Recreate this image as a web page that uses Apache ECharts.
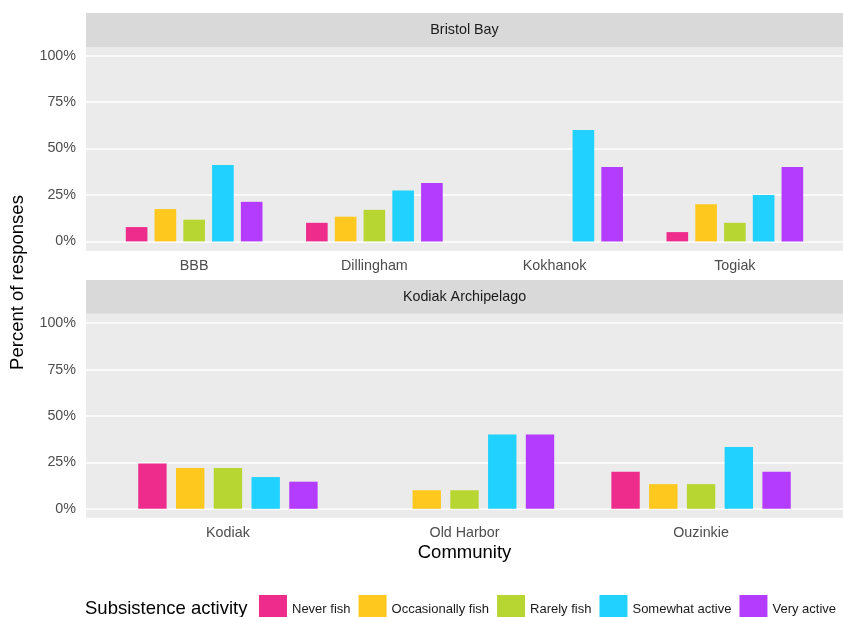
<!DOCTYPE html>
<html>
<head>
<meta charset="utf-8">
<script src="https://cdn.jsdelivr.net/npm/echarts@6/dist/echarts.min.js"></script>
<style>
  html, body { margin: 0; padding: 0; background: #fff; }
  #chart { width: 843px; height: 617px; }
</style>
</head>
<body>
<div id="chart"></div>
<script>
// Communities per region
const bristolCommunities = ['BBB', 'Dillingham', 'Kokhanok', 'Togiak'];
const kodiakCommunities = ['Kodiak', 'Old Harbor', 'Ouzinkie'];

// Subsistence activity groups
const activities = ['Never fish', 'Occasionally fish', 'Rarely fish', 'Somewhat active', 'Very active'];
const activityColors = ['#EE2C8C', '#FFC81E', '#B8D632', '#21D1FF', '#B43CFF'];

// Percent of responses, Bristol Bay
const bristolNever = [7.7, 10.0, null, 5.0];
const bristolOccasionally = [17.4, 13.3, null, 20.0];
const bristolRarely = [11.7, 17.0, null, 10.0];
const bristolSomewhat = [41.1, 27.4, 60.0, 25.0];
const bristolVery = [21.3, 31.4, 40.0, 40.0];

// Percent of responses, Kodiak Archipelago
const kodiakNever = [24.4, null, 20.0];
const kodiakOccasionally = [22.0, 10.0, 13.3];
const kodiakRarely = [22.0, 10.0, 13.3];
const kodiakSomewhat = [17.1, 40.0, 33.3];
const kodiakVery = [14.6, 40.0, 20.0];

// Y tick values
const percentTicks = [0, 25, 50, 75, 100];

const bristolSeries = [bristolNever, bristolOccasionally, bristolRarely, bristolSomewhat, bristolVery];
const kodiakSeries = [kodiakNever, kodiakOccasionally, kodiakRarely, kodiakSomewhat, kodiakVery];

const FONT = 'Liberation Sans, Arial, Helvetica, sans-serif';
const PANEL_BG = '#EBEBEB';
const STRIP_BG = '#D9D9D9';
const PANEL_LEFT = 86, PANEL_W = 757;

// Panel geometry: the value range 0..100 maps to [top, top+height]
const panels = [
  { stripY: 13, stripH: 34, bgY: 47, bgH: 203.7, top: 55.6, height: 185.8, cats: bristolCommunities, data: bristolSeries, label: 'Bristol Bay' },
  { stripY: 280, stripH: 33.7, bgY: 313.7, bgH: 204, top: 323.2, height: 185.6, cats: kodiakCommunities, data: kodiakSeries, label: 'Kodiak Archipelago' }
];

const grids = [], xAxes = [], yAxes = [], series = [], graphics = [];

panels.forEach((p, pi) => {
  // discrete scale expanded by 0.6 category units on each side
  const unit = PANEL_W / (p.cats.length + 0.2);
  const barLeft = PANEL_LEFT + 0.1 * unit;
  const barWidth = p.cats.length * unit;

  // grid for background gridlines (full panel width)
  grids.push({ left: PANEL_LEFT, top: p.top, width: PANEL_W, height: p.height, containLabel: false });
  xAxes.push({ type: 'value', gridIndex: grids.length - 1, show: false, min: 0, max: 1 });
  yAxes.push({
    type: 'value', gridIndex: grids.length - 1, min: 0, max: 100, interval: 25,
    axisLine: { show: false }, axisTick: { show: false },
    axisLabel: { margin: 10, color: '#4D4D4D', fontFamily: FONT, fontSize: 14.3, formatter: v => percentTicks.includes(v) ? v + '%' : '' },
    splitLine: { show: true, lineStyle: { color: '#FFFFFF', width: 1.5 } }
  });

  // grid for the bars (category bands)
  grids.push({ left: barLeft, top: p.top, width: barWidth, height: p.height, containLabel: false });
  const gi = grids.length - 1;
  xAxes.push({
    type: 'category', gridIndex: gi, data: p.cats,
    axisLine: { show: false }, axisTick: { show: false },
    axisLabel: { margin: 17.5, color: '#4D4D4D', fontFamily: FONT, fontSize: 14.3 }
  });
  yAxes.push({ type: 'value', gridIndex: gi, min: 0, max: 100, show: false, splitLine: { show: false } });

  activities.forEach((name, si) => {
    series.push({
      type: 'bar', name: name, xAxisIndex: gi, yAxisIndex: gi,
      data: p.data[si], barWidth: '12%', barGap: '33%',
      itemStyle: { color: activityColors[si] },
      emphasis: { disabled: true }
    });
  });

  // panel background and facet strip
  graphics.push({ type: 'rect', z: -10, silent: true, shape: { x: PANEL_LEFT, y: p.bgY, width: PANEL_W, height: p.bgH }, style: { fill: PANEL_BG } });
  graphics.push({ type: 'rect', z: -10, silent: true, shape: { x: PANEL_LEFT, y: p.stripY, width: PANEL_W, height: p.stripH }, style: { fill: STRIP_BG } });
  graphics.push({
    type: 'text', z: 5, silent: true, x: PANEL_LEFT + PANEL_W / 2, y: p.stripY + p.stripH / 2 + 0.5,
    style: { text: p.label, fill: '#1A1A1A', font: '14.3px ' + FONT, textAlign: 'center', textVerticalAlign: 'middle' }
  });
});

// Axis titles and legend title
graphics.push({
  type: 'text', silent: true, x: 18.3, y: 282.5, rotation: Math.PI / 2,
  style: { text: 'Percent of responses', fill: '#000', font: '18.5px ' + FONT, textAlign: 'center', textVerticalAlign: 'middle' }
});
graphics.push({
  type: 'text', silent: true, x: 464.5, y: 553,
  style: { text: 'Community', fill: '#000', font: '18.5px ' + FONT, textAlign: 'center', textVerticalAlign: 'middle' }
});
graphics.push({
  type: 'text', silent: true, x: 85, y: 608.5,
  style: { text: 'Subsistence activity', fill: '#000', font: '18.5px ' + FONT, textAlign: 'left', textVerticalAlign: 'middle' }
});

const chart = echarts.init(document.getElementById('chart'), null, { renderer: 'canvas' });
chart.setOption({
  animation: false,
  backgroundColor: '#FFFFFF',
  grid: grids,
  xAxis: xAxes,
  yAxis: yAxes,
  series: series,
  legend: {
    data: activities, left: 259, top: 595, orient: 'horizontal',
    itemWidth: 28, itemHeight: 28, itemGap: 8, icon: 'rect', padding: 0,
    selectedMode: false,
    textStyle: { color: '#1A1A1A', fontFamily: FONT, fontSize: 13 }
  },
  graphic: graphics
});
</script>
</body>
</html>
